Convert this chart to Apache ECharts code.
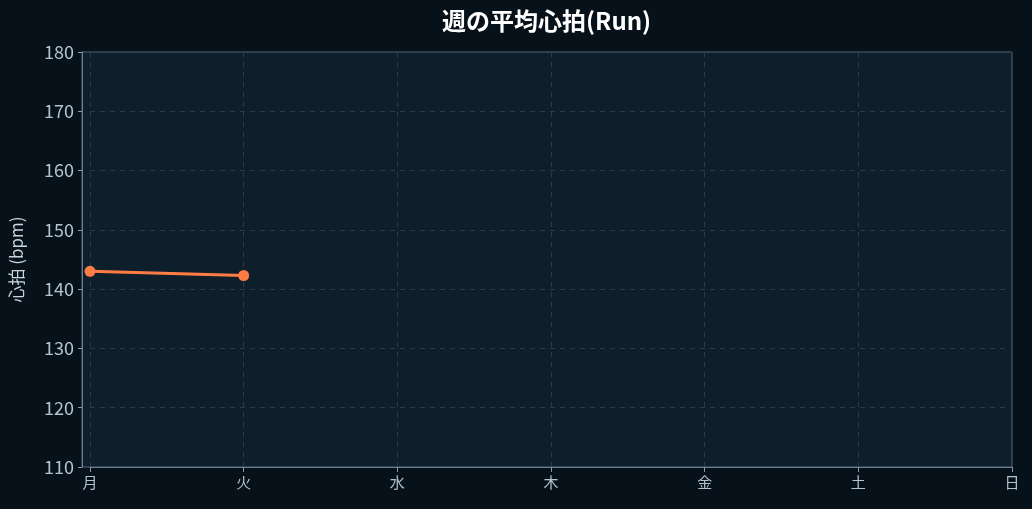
<!DOCTYPE html>
<html><head><meta charset="utf-8">
<script src="https://cdn.jsdelivr.net/npm/echarts@6/dist/echarts.min.js"></script>
<style>html,body{margin:0;padding:0;background:#07111a;}#c{width:1032px;height:509px;}</style>
</head><body><div id="c"></div>
<script>
const days = ['月','火','水','木','金','土','日'];
const heartRate = [143.0, 142.3, null, null, null, null, null];
const yTicks = [110, 120, 130, 140, 150, 160, 170, 180];
const titleText = '週の平均心拍(Run)';
const yName = '心拍 (bpm)';

const FONT = '"Noto Sans CJK JP", "Noto Sans", sans-serif';
const chart = echarts.init(document.getElementById('c'));
chart.setOption({
  backgroundColor: '#07111a',
  animation: false,
  title: {
    text: titleText, left: 442, top: 9, padding: 0,
    textStyle: { color: '#ffffff', fontSize: 24, fontWeight: 'bold', fontFamily: FONT }
  },
  graphic: [{
    type: 'rect', z: -1, silent: true,
    shape: { x: 82, y: 52, width: 930, height: 415 },
    style: { fill: '#0f1e2b', stroke: '#55697a', lineWidth: 1 }
  }],
  grid: { left: 90, right: 20, top: 52, bottom: 42, containLabel: false },
  xAxis: {
    type: 'category', data: days, boundaryGap: false,
    axisLine: { show: true, lineStyle: { color: '#6b7f90', width: 1 } },
    axisTick: { show: true, alignWithLabel: true, length: 5, lineStyle: { color: '#8a9cab' } },
    axisLabel: { color: '#b4c2ce', fontSize: 15, fontFamily: FONT, margin: 8 },
    splitLine: { show: true, lineStyle: { color: '#2a3b4a', type: [5, 5], width: 1 } }
  },
  yAxis: {
    type: 'value', min: yTicks[0], max: yTicks[yTicks.length - 1], interval: 10,
    offset: 8,
    name: yName, nameLocation: 'middle', nameGap: 57, nameRotate: 90,
    nameTextStyle: { color: '#c8d4de', fontSize: 17, fontFamily: FONT },
    axisLine: { show: true, lineStyle: { color: '#6b7f90', width: 1 } },
    axisTick: { show: true, length: 4, lineStyle: { color: '#8a9cab' } },
    axisLabel: { color: '#b4c2ce', fontSize: 18, fontFamily: FONT, margin: 8 },
    splitLine: { show: true, lineStyle: { color: '#2a3b4a', type: [5, 5], width: 1 } }
  },
  series: [{
    type: 'line', data: heartRate, connectNulls: false,
    symbol: 'circle', symbolSize: 11, showSymbol: true,
    lineStyle: { color: '#ff7d45', width: 3 },
    itemStyle: { color: '#ff7d45' }
  }]
});
</script></body></html>
